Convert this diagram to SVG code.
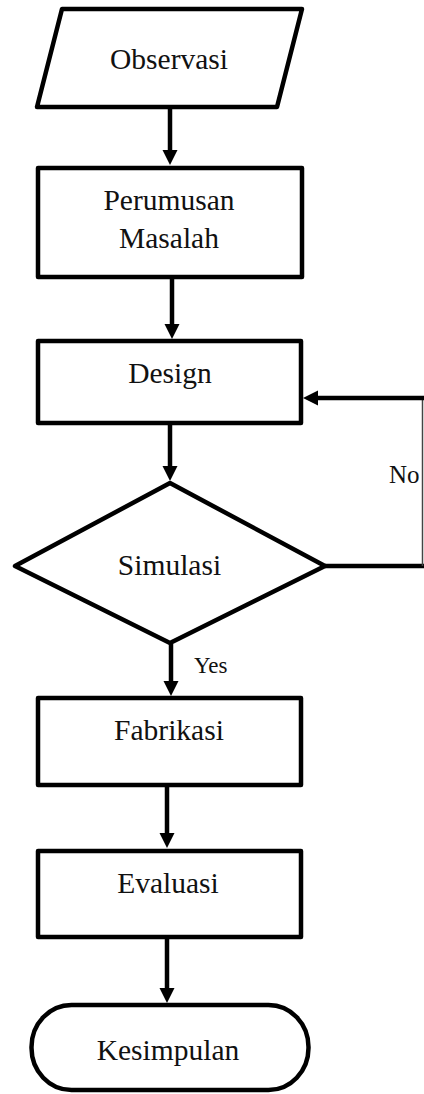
<svg xmlns="http://www.w3.org/2000/svg" width="424" height="1094" viewBox="0 0 424 1094">
<style>
.shape{fill:#fff;stroke:#000;stroke-width:4.5;stroke-linejoin:round}
.lbl{font-family:"Liberation Serif","Times New Roman",serif;font-size:29.5px;fill:#111;text-anchor:middle}
.small{font-family:"Liberation Serif","Times New Roman",serif;font-size:23px;fill:#111}
.conn{fill:none;stroke:#000;stroke-width:4.5}
</style>
<defs>
<marker id="ah" markerUnits="userSpaceOnUse" markerWidth="16" markerHeight="16" viewBox="0 0 16 16" refX="6" refY="8" orient="auto">
<path d="M0,0.5 L15,8 L0,15.5 z" fill="#000"/>
</marker>
</defs>
<rect width="424" height="1094" fill="#fff"/>
<g id="connectors">
<line class="conn" x1="170" y1="108" x2="170" y2="156" marker-end="url(#ah)"/>
<line class="conn" x1="172" y1="277" x2="172" y2="330" marker-end="url(#ah)"/>
<line class="conn" x1="170" y1="423" x2="170" y2="472" marker-end="url(#ah)"/>
<line class="conn" x1="171" y1="644" x2="171" y2="687" marker-end="url(#ah)"/>
<line class="conn" x1="167" y1="785" x2="167" y2="839" marker-end="url(#ah)"/>
<line class="conn" x1="167" y1="937" x2="167" y2="994" marker-end="url(#ah)"/>
<line class="conn" x1="325" y1="566" x2="424" y2="566"/>
<line x1="422.5" y1="398" x2="422.5" y2="566" stroke="#444" stroke-width="1.5"/>
<line class="conn" x1="424" y1="398" x2="312" y2="398" marker-end="url(#ah)"/>
<text class="small" x="389" y="483" style="font-size:25px">No</text>
<text class="small" x="194" y="673">Yes</text>
</g>
<g id="observasi">
<polygon class="shape" points="62,9 302,9 277,107 37,107"/>
<text class="lbl" x="169" y="69">Observasi</text>
</g>
<g id="perumusan">
<rect class="shape" x="38" y="168" width="264" height="109"/>
<text class="lbl" x="169" y="210">Perumusan</text>
<text class="lbl" x="169" y="248">Masalah</text>
</g>
<g id="design">
<rect class="shape" x="38" y="341" width="263" height="82"/>
<text class="lbl" x="170" y="383">Design</text>
</g>
<g id="simulasi">
<polygon class="shape" points="170,483 325,566 170,643 15,566"/>
<text class="lbl" x="169.5" y="575">Simulasi</text>
</g>
<g id="fabrikasi">
<rect class="shape" x="38" y="698" width="263" height="87"/>
<text class="lbl" x="169" y="740">Fabrikasi</text>
</g>
<g id="evaluasi">
<rect class="shape" x="38" y="851" width="263" height="86"/>
<text class="lbl" x="168" y="893">Evaluasi</text>
</g>
<g id="kesimpulan">
<rect class="shape" x="31.5" y="1005" width="277" height="85" rx="40" ry="42"/>
<text class="lbl" x="168" y="1060">Kesimpulan</text>
</g>
</svg>
